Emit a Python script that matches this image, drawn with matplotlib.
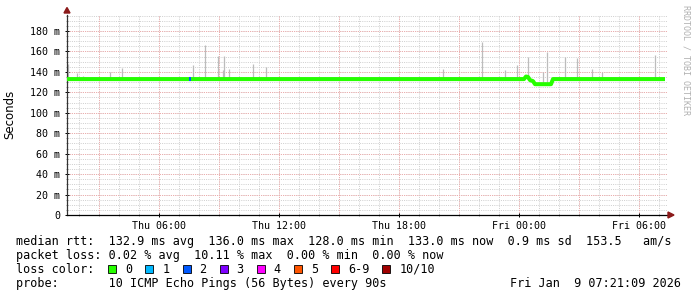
import numpy as np
import matplotlib
matplotlib.use("Agg")
import matplotlib.pyplot as plt
from matplotlib.patches import Rectangle, Polygon

# hours counted from Thu 00:00
x_start, x_end = 1.4, 31.4
y_top = 195.7

median_hours = [1.4, 24.25, 24.35, 24.45, 24.55, 24.7, 24.8, 25.6, 25.7, 31.3]
median_ms = [133, 133, 135.5, 135, 132, 131, 128, 128, 133, 133]

loss_hours = [7.5, 7.6]
loss_ms = [133, 133]

spike_hours = [1.45, 1.9, 2.2, 3.55, 4.15, 7.7, 8.3, 8.95, 9.2, 9.25, 9.5, 10.7, 11.35,
               20.2, 20.55, 22.15, 23.3, 23.9, 24.45, 25.2, 25.4, 26.3, 26.9, 27.65, 28.15, 30.8]
spike_top = [147.7, 139, 136, 140, 144, 147, 166, 156, 142, 155.6, 143, 148, 145,
             142.8, 135, 169.6, 142, 146.8, 155, 140, 159.8, 155, 153.6, 142.8, 140, 156.5]
spike_low = [132] * 19 + [129, 128.5] + [132] * 5

tick_hours = [6, 12, 18, 24, 30]
tick_labels = ["Thu 06:00", "Thu 12:00", "Thu 18:00", "Fri 00:00", "Fri 06:00"]
y_ticks = [0, 20, 40, 60, 80, 100, 120, 140, 160, 180]
y_labels = ["0"] + ["%d m" % v for v in y_ticks[1:]]

legend_rows = [
    "median rtt:  132.9 ms avg  136.0 ms max  128.0 ms min  133.0 ms now  0.9 ms sd  153.5   am/s",
    "packet loss: 0.02 % avg  10.11 % max  0.00 % min  0.00 % now",
    "loss color:",
    "probe:       10 ICMP Echo Pings (56 Bytes) every 90s",
]
loss_names = ["0", "1", "2", "3", "4", "5", "6-9", "10/10"]
loss_colors = ["#26ff00", "#00b8ff", "#0059ff", "#7e00ff", "#ff00ff", "#ff5500", "#ff0000", "#a00000"]
stamp = "Fri Jan  9 07:21:09 2026"

W, H = 697, 297
fig = plt.figure(figsize=(W / 100, H / 100), dpi=100)
fig.patch.set_facecolor("white")
ax = fig.add_axes([67 / W, (H - 215) / H, 600 / W, 200 / H])
ax.set_xlim(x_start, x_end)
ax.set_ylim(0, y_top)

# rrdtool style dotted grid
dots = (0, (1, 1.2))
gkw = dict(lw=0.72, ls=dots)
for h in np.arange(2, 32, 1):
    ax.axvline(h, color="#d0d0d0", zorder=1, **gkw)
for v in np.arange(5, 196, 5):
    ax.axhline(v, color="#d0d0d0", zorder=1, **gkw)
for h in np.arange(3, 32, 3):
    ax.axvline(h, color="#efaaaa", zorder=1.1, **gkw)
for v in np.arange(20, 196, 20):
    ax.axhline(v, color="#efaaaa", zorder=1.1, **gkw)

ax.vlines(spike_hours, spike_low, spike_top, color="#bcbcbc", lw=0.9, zorder=2)
ax.plot(median_hours, median_ms, color="#26ff00", lw=2.9, solid_capstyle="butt", zorder=3)
ax.plot(loss_hours, loss_ms, color="#0059ff", lw=2.9, solid_capstyle="butt", zorder=3.1)

for s in ["top", "right"]:
    ax.spines[s].set_visible(False)
ax.spines["left"].set_color("#333333")
ax.spines["bottom"].set_color("black")
ax.spines["left"].set_linewidth(0.9)
ax.spines["bottom"].set_linewidth(0.9)

mono = "DejaVu Sans Mono"
ax.set_xticks(tick_hours)
ax.set_xticklabels(tick_labels, fontsize=7.2, family=mono)
ax.set_xticks(np.arange(2, 32, 1), minor=True)
ax.set_yticks(y_ticks)
ax.set_yticklabels(y_labels, fontsize=7.2, family=mono)
ax.set_yticks(np.arange(5, 196, 5), minor=True)
ax.tick_params(axis="both", which="major", length=2.5, width=0.7, direction="inout", pad=3)
ax.tick_params(axis="both", which="minor", length=1.5, width=0.6, direction="inout", color="#888888")
ax.tick_params(axis="y", which="major", pad=3.5)

ov = fig.add_axes([0, 0, 1, 1], zorder=5)
ov.set_xlim(0, W)
ov.set_ylim(H, 0)
ov.axis("off")
ov.patch.set_alpha(0)

arrow = "#8b1a1a"
ov.add_patch(Polygon([(64, 13), (70, 13), (67, 7.5)], closed=True, color=arrow))
ov.add_patch(Polygon([(668, 212), (668, 218), (674, 215)], closed=True, color=arrow))

ov.text(10, 114, "Seconds", rotation=90, ha="center", va="center", fontsize=8.5, family="DejaVu Sans")
ov.text(686, 5, "RRDTOOL / TOBI OETIKER", rotation=270, ha="center", va="top",
        fontsize=6, family=mono, color="#b0b0b0")

cw = 7.1
for i, row in enumerate(legend_rows):
    ov.text(16, 245 + 14 * i, row, fontsize=8.5, family=mono, va="baseline", ha="left")
ov.text(681, 287, stamp, fontsize=8.5, family=mono, va="baseline", ha="right")

x = 108.3
for name, col in zip(loss_names, loss_colors):
    ov.add_patch(Rectangle((x, 265), 8, 8, facecolor=col, edgecolor="black", lw=0.6))
    ov.text(x + 17, 273, name, fontsize=8.5, family=mono, va="baseline", ha="left")
    x += 17 + len(name) * cw + 13

fig.savefig("out.png", dpi=100, facecolor="white")
